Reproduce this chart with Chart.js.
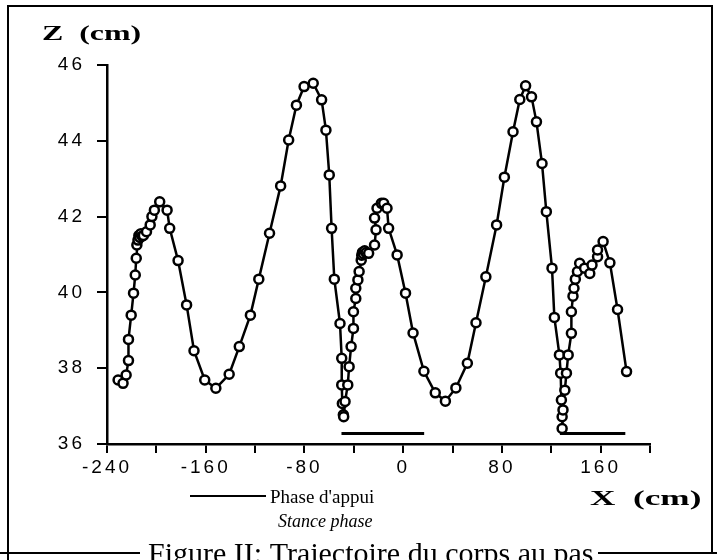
<!DOCTYPE html>
<html>
<head>
<meta charset="utf-8">
<script src="https://cdn.jsdelivr.net/npm/chart.js@4.4.0/dist/chart.umd.min.js"></script>
<style>
html, body { margin: 0; padding: 0; background: #fff; }
</style>
</head>
<body>
<canvas id="trajChart" width="717" height="560"></canvas>
<script>
// trajectoire du corps : X (cm) horizontal, Z (cm) vertical
var trajX = [-231, -227, -224.5, -222.6, -222.6, -220.4, -218.5, -217.1, -216.3, -215.8,
  -214.9, -214.2, -213.4, -212.5, -211.6, -210.5, -208, -205, -203.6, -201.6,
  -197.3, -191.3, -189.2,
  -182.4, -175.5, -169.5, -160.8, -151.8, -141, -132.8, -123.8, -117, -108.3,
  -99.3, -92.8, -86.5, -80.3, -72.9, -66.1, -62.6, -59.9, -58, -55.8,
  -51.2, -49.8, -49.8, -49.3, -48.5, -48.2, -47.1, -44.9, -43.8, -42.2,
  -40.3, -40.3, -38.4, -38.4, -36.7, -35.7, -34, -33.6, -33, -32.2, -31.2, -30, -28,
  -23.2, -22, -23.2, -21.2, -17.7, -15.8, -13.1, -11.8, -4.9, 1.9,
  8, 16.8, 26, 34.2, 42.7, 52, 59, 67, 75.7, 82,
  89, 94.5, 99.2, 104, 108, 112.5, 116, 120.6, 122.5, 126.6,
  127.6, 128.2, 128.8, 128.8, 129.5, 131, 132.3, 133.7, 136.3, 136.3,
  137.6, 138.4, 139.5, 141.2, 143, 147, 151.2, 153, 157.5, 157.5,
  162, 167.5, 173.7, 181];
var trajZ = [37.69, 37.6, 37.82, 38.2, 38.76, 39.4, 39.98, 40.46, 40.9, 41.25,
  41.38, 41.5, 41.45, 41.55, 41.48, 41.5, 41.6, 41.78, 42.0, 42.17,
  42.39, 42.17, 41.69,
  40.84, 39.67, 38.46, 37.69, 37.47, 37.84, 38.57, 39.4, 40.35, 41.56,
  42.81, 44.02, 44.94, 45.43, 45.52, 45.08, 44.28, 43.1, 41.69, 40.35,
  39.18, 38.26, 37.56, 37.07, 36.77, 36.72, 37.12, 37.56, 38.04, 38.57,
  39.05, 39.49, 39.84, 40.11, 40.33, 40.55, 40.85, 40.98, 41.06, 41.02, 41.1, 41.05, 41.03,
  41.25, 41.65, 41.96, 42.22, 42.35, 42.35, 42.22, 41.69, 40.99, 39.98,
  38.93, 37.92, 37.35, 37.13, 37.48, 38.13, 39.2, 40.41, 41.78, 43.04,
  44.24, 45.09, 45.45, 45.16, 44.5, 43.4, 42.13, 40.64, 39.34, 38.35,
  37.87, 37.16, 36.72, 36.41, 36.9, 37.42, 37.87, 38.35, 38.92, 39.49,
  39.9, 40.11, 40.35, 40.55, 40.77, 40.64, 40.5, 40.72, 40.94, 41.12,
  41.34, 40.78, 39.55, 37.91];

// phases d'appui (stance phase)
var stanceStart = [-50, 127];
var stanceEnd = [17, 180];
var stanceZ = 36.28;

var xMin = -240, xMax = 200, xStep = 40, xLabelStep = 80;
var zMin = 36, zMax = 46, zStep = 2;

var trajPoints = trajX.map(function (x, i) { return { x: x, y: trajZ[i] }; });

var datasets = [];
for (var i = 0; i < stanceStart.length; i++) {
  datasets.push({
    data: [{ x: stanceStart[i], y: stanceZ }, { x: stanceEnd[i], y: stanceZ }],
    showLine: true,
    borderColor: '#000',
    borderWidth: 3,
    pointRadius: 0
  });
}
datasets.push({
  data: trajPoints,
  showLine: true,
  borderColor: '#000',
  borderWidth: 2.5,
  pointRadius: 4.5,
  pointBorderWidth: 2.5,
  pointBackgroundColor: '#fff',
  pointBorderColor: '#000',
  tension: 0
});

var decor = {
  id: 'decor',
  beforeDraw: function (chart) {
    chart.ctx.letterSpacing = '3px';
  },
  afterDraw: function (chart) {
    var ctx = chart.ctx;
    ctx.save();
    ctx.letterSpacing = '0px';
    ctx.strokeStyle = '#000';
    ctx.fillStyle = '#000';
    ctx.lineWidth = 2;

    // cadre
    ctx.beginPath();
    ctx.moveTo(8, 560);
    ctx.lineTo(8, 6);
    ctx.lineTo(712, 6);
    ctx.lineTo(712, 552);
    ctx.stroke();

    // titres des axes
    ctx.textBaseline = 'alphabetic';
    ctx.save();
    ctx.translate(42, 40);
    ctx.scale(1.45, 1);
    ctx.font = 'bold 22px "Liberation Serif"';
    ctx.fillText('Z  (cm)', 0, 0);
    ctx.restore();
    ctx.save();
    ctx.translate(590, 505);
    ctx.scale(1.6, 1);
    ctx.font = 'bold 22px "Liberation Serif"';
    ctx.fillText('X  (cm)', 0, 0);
    ctx.restore();

    // légende
    ctx.beginPath();
    ctx.moveTo(190, 496);
    ctx.lineTo(266, 496);
    ctx.stroke();
    ctx.font = '19px "Liberation Serif"';
    ctx.fillText("Phase d'appui", 270, 503);
    ctx.font = 'italic 18px "Liberation Serif"';
    ctx.fillText('Stance phase', 278, 527);

    // légende de la figure
    ctx.font = '30px "Liberation Serif"';
    ctx.fillText('Figure II: Trajectoire du corps au pas', 148, 563);
    ctx.beginPath();
    ctx.moveTo(0, 553);
    ctx.lineTo(140, 553);
    ctx.moveTo(598, 553);
    ctx.lineTo(717, 553);
    ctx.stroke();
    ctx.restore();
  }
};

var ctx = document.getElementById('trajChart').getContext('2d');
var myChart = new Chart(ctx, {
  type: 'scatter',
  data: { datasets: datasets },
  options: {
    responsive: false,
    animation: false,
    layout: { padding: { top: 65, right: 67, left: 0, bottom: 0 } },
    plugins: {
      legend: { display: false },
      tooltip: { enabled: false }
    },
    scales: {
      x: {
        type: 'linear',
        min: xMin,
        max: xMax,
        border: { display: true, color: '#000', width: 2.5 },
        grid: { drawOnChartArea: false, drawTicks: true, tickLength: 9, color: '#000', lineWidth: 2 },
        ticks: {
          stepSize: xStep,
          color: '#000',
          font: { family: 'Liberation Sans', size: 19 },
          maxRotation: 0,
          autoSkip: false,
          padding: 3,
          callback: function (v) { return v % xLabelStep === 0 ? String(v) : ''; }
        },
        afterFit: function (s) { s.height = 116; }
      },
      y: {
        min: zMin,
        max: zMax,
        border: { display: true, color: '#000', width: 2.5 },
        grid: { drawOnChartArea: false, drawTicks: true, tickLength: 10, color: '#000', lineWidth: 2 },
        ticks: {
          stepSize: zStep,
          color: '#000',
          font: { family: 'Liberation Sans', size: 19 },
          padding: 12
        },
        afterFit: function (s) { s.width = 107; }
      }
    }
  },
  plugins: [decor]
});
</script>
</body>
</html>
